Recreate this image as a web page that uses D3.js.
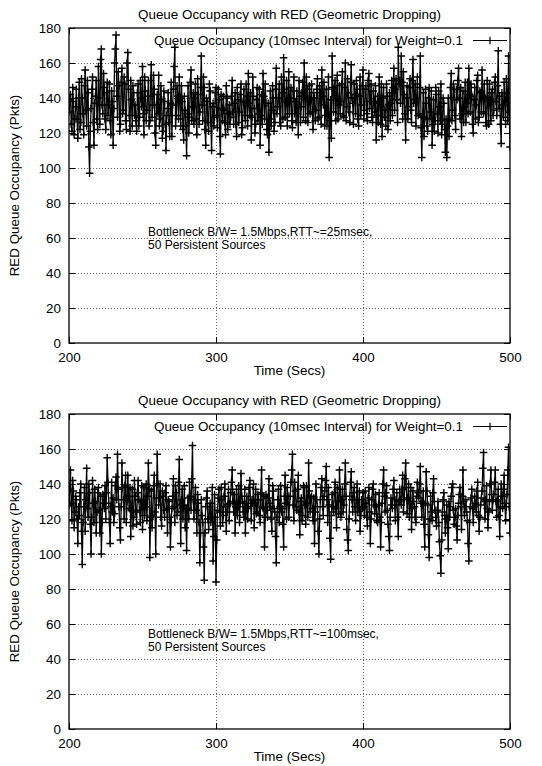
<!DOCTYPE html>
<html>
<head>
<meta charset="utf-8">
<script src="https://cdn.jsdelivr.net/npm/d3@7"></script>
<style>
  html, body { margin: 0; padding: 0; background: #fff; }
  svg { display: block; }
  text { font-family: "Liberation Sans", Arial, Helvetica, sans-serif; fill: #000; }
</style>
</head>
<body>
<svg id="chart" width="542" height="766"></svg>
<script>
// ---- data: samples every 0.5 s, t = 200 .. 500 ----
// whole-second samples (t = 200, 201, ... 500)
const sampleStart = 200;
const sampleStep = 1;

const rtt25Whole = [
  132,142,121,138,128, 145,117,149,126,140, 119,156,124,143,97, 134,152,113,141,128,
  158,125,168,131,146, 122,149,136,127,144, 113,160,176,129,147, 125,157,133,148,122,
  166,130,150,124,143, 136,121,148,129,140, 158,119,144,133,150, 127,159,136,145,113,
  142,153,128,139,121, 138,110,134,126,137, 118,145,169,130,141, 152,124,138,116,133,
  107,147,129,156,135, 125,148,119,142,132, 164,127,146,113,138, 121,144,110,137,129,
  146,123,139,108,134, 141,126,147,122,136, 129,150,125,143,118, 139,132,148,123,145,
  127,141,154,130,116, 152,134,125,146,131, 113,142,154,128,137, 119,109,144,133,140,
  126,157,135,148,124, 143,163,129,150,137, 131,146,123,152,138, 144,119,141,135,149,
  160,127,145,138,131, 148,122,140,133,151, 129,143,156,136,124, 145,131,106,139,164,
  132,150,141,128,147, 138,155,129,160,135, 143,126,159,137,148, 131,145,124,152,136,
  156,133,147,127,154, 138,129,144,132,116, 141,152,125,118,146, 133,148,122,143,137,
  130,157,145,139,169, 150,164,128,142,116, 147,135,151,126,162, 139,124,152,131,164,
  106,143,128,137,121, 146,132,113,139,127, 142,120,135,148,125, 137,109,106,140,128,
  154,133,145,122,139, 157,128,118,144,135, 126,149,157,132,141, 120,146,136,153,129,
  143,156,131,140,124, 138,148,127,145,133, 152,130,167,141,114, 136,149,125,143,164,
  112
];
// half-second samples (t = 200.5, 201.5, ... 499.5)
const rtt25Half = [
  139,125,146,119,135, 128,140,122,151,131, 147,133,150,112,121, 145,126,137,150,122,
  140,162,136,154,128, 143,130,148,119,138, 134,168,141,155,121, 149,131,152,127,160,
  145,121,139,147,130, 127,143,124,150,135, 131,152,127,141,124, 150,129,153,120,136,
  131,124,147,117,144, 125,130,143,118,149, 136,158,124,147,128, 140,147,122,141,124,
  131,120,149,127,143, 140,128,151,125,146, 136,152,122,140,126, 148,126,135,124,143,
  130,145,118,142,127, 133,119,140,131,125, 141,132,137,125,146, 126,142,119,138,130,
  148,124,137,143,129, 141,120,139,127,145, 130,125,141,148,122, 137,128,124,147,121,
  145,131,140,126,152, 128,145,138,124,155, 140,127,144,131,126, 131,150,126,143,129,
  141,152,126,147,139, 132,143,127,145,128, 147,125,141,149,130, 124,152,127,117,146,
  145,127,153,136,131, 148,130,146,127,151, 132,149,140,125,142, 150,128,141,130,147,
  128,145,131,150,134, 148,126,138,147,130, 126,137,148,140,129, 124,141,136,127,150,
  146,133,151,126,148, 137,149,155,131,140, 128,146,133,150,137, 148,140,130,146,123,
  129,118,145,124,140, 128,144,125,121,146, 131,144,127,119,140, 122,128,124,118,146,
  127,148,130,145,150, 140,146,131,126,149, 137,131,142,148,125, 139,128,150,126,144,
  132,141,148,126,150, 125,139,143,130,149, 138,147,134,125,143, 129,138,151,127,132
];

const rtt100Whole = [
  128,148,119,136,124, 131,106,122,140,94, 127,113,149,121,135, 100,142,118,130,124,
  138,112,100,134,126, 120,155,129,106,141, 132,123,144,157,127, 108,152,131,139,118,
  145,126,110,137,121, 133,117,142,125,130, 114,138,127,119,152, 98,136,122,145,100,
  157,128,140,116,133, 121,139,112,130,104, 126,143,118,135,124, 154,106,137,128,115,
  102,132,141,125,162, 120,138,112,129,95, 131,118,85,127,136, 114,129,121,96,134,
  84,125,137,116,131, 122,140,113,128,119, 135,148,124,112,137, 127,118,146,130,121,
  112,133,126,142,119, 129,115,137,124,131, 118,148,126,104,134, 121,143,129,113,136,
  124,95,131,118,139, 126,104,145,120,133, 128,141,157,119,136, 125,145,111,132,122,
  138,117,129,152,124, 133,119,106,140,127, 100,131,143,122,136, 150,118,128,97,134,
  124,141,115,130,148, 121,137,128,152,114, 102,133,147,124,138, 119,140,127,113,131,
  135,122,129,116,138, 106,131,140,123,127, 118,135,104,129,148, 124,139,117,102,132,
  126,142,119,135,110, 137,128,145,131,152, 123,140,129,114,136, 127,118,141,132,150,
  121,136,104,147,128, 98,133,119,143,125, 116,130,107,89,124, 135,112,128,103,121,
  133,140,117,126,108, 129,138,114,148,122, 131,119,96,127,137, 118,133,124,141,113,
  128,136,158,120,139, 115,130,148,125,134, 148,121,137,110,140, 126,145,119,134,161,
  112
];
const rtt100Half = [
  137,129,142,115,133, 120,127,135,113,118, 138,131,126,140,117, 121,129,137,112,135,
  125,133,118,129,139, 135,141,118,127,124, 118,139,131,137,115, 127,138,120,145,130,
  133,138,125,116,142, 124,135,131,118,139, 127,122,140,133,137, 121,115,139,124,132,
  140,132,121,136,125, 135,126,131,121,118, 133,127,139,122,141, 128,131,120,139,126,
  126,120,133,143,131, 131,125,134,118,112, 122,104,112,132,120, 127,118,138,110,121,
  108,132,124,138,118, 133,127,124,137,129, 141,130,134,127,122, 139,129,133,124,137,
  127,120,138,129,131, 140,129,123,134,122, 135,127,133,121,125, 132,127,120,139,126,
  110,121,137,127,124, 117,133,129,138,121, 133,148,128,141,127, 137,124,130,119,139,
  128,139,121,136,132, 126,132,124,131,113, 120,138,127,133,142, 131,138,109,122,127,
  135,126,138,123,137, 131,124,140,133,108, 120,141,131,135,127, 131,124,136,122,126,
  127,136,121,132,124, 120,137,128,134,119, 128,121,118,140,133, 135,125,110,121,128,
  137,128,131,121,130, 131,137,124,143,138, 132,121,138,126,130, 121,133,135,140,129,
  130,117,129,136,111, 120,124,135,130,121, 125,118,99,108,131, 122,120,115,130,127,
  138,125,121,116,122, 134,127,133,130,127, 124,106,118,132,126, 127,129,136,122,121,
  132,149,130,131,126, 124,140,134,131,141, 130,131,122,127,133, 137,129,127,148,127
];

const xTicks = [200, 300, 400, 500];
const yTicks = [0, 20, 40, 60, 80, 100, 120, 140, 160, 180];
const xDomain = [200, 500];
const yDomain = [0, 180];

const titleText = "Queue Occupancy with RED (Geometric Dropping)";
const legendText = "Queue Occupancy (10msec Interval) for Weight=0.1";
const xLabel = "Time (Secs)";
const yLabel = "RED Queue Occupancy (Pkts)";

const panels = [
  { whole: rtt25Whole, half: rtt25Half, top: 28, note: ["Bottleneck B/W= 1.5Mbps,RTT~=25msec,", "50 Persistent Sources"], noteValue: 63.5 },
  { whole: rtt100Whole, half: rtt100Half, top: 414, note: ["Bottleneck B/W= 1.5Mbps,RTT~=100msec,", "50 Persistent Sources"], noteValue: 54.5 }
];

// ---- drawing ----
const svg = d3.select("#chart");
const left = 69, right = 510, plotH = 315;
const fontSize = 13.4;
const noteSize = 12;

panels.forEach(p => {
  const x = d3.scaleLinear().domain(xDomain).range([left, right]);
  const y = d3.scaleLinear().domain(yDomain).range([p.top + plotH, p.top]);
  const g = svg.append("g");

  // grid (dotted)
  g.selectAll(".hgrid").data(yTicks.filter(v => v > yDomain[0] && v < yDomain[1]))
    .enter().append("line")
    .attr("x1", left).attr("x2", right)
    .attr("y1", d => y(d) + 0.5).attr("y2", d => y(d) + 0.5)
    .attr("stroke", "#666").attr("stroke-width", 1).attr("stroke-dasharray", "1,2");
  g.selectAll(".vgrid").data(xTicks.filter(v => v > xDomain[0] && v < xDomain[1]))
    .enter().append("line")
    .attr("x1", d => Math.round(x(d)) + 0.5).attr("x2", d => Math.round(x(d)) + 0.5)
    .attr("y1", p.top).attr("y2", p.top + plotH)
    .attr("stroke", "#666").attr("stroke-width", 1).attr("stroke-dasharray", "1,2");

  // axes with inward ticks
  const axL = d3.axisLeft(y).tickValues(yTicks).tickSize(-6).tickPadding(8);
  const axR = d3.axisRight(y).tickValues(yTicks).tickSize(-6).tickFormat("");
  const axB = d3.axisBottom(x).tickValues(xTicks).tickSize(-6).tickPadding(9);
  const axT = d3.axisTop(x).tickValues(xTicks).tickSize(-6).tickFormat("");
  [[axL, `translate(${left},0)`], [axR, `translate(${right},0)`],
   [axB, `translate(0,${p.top + plotH})`], [axT, `translate(0,${p.top})`]].forEach(([ax, tr]) => {
    const a = g.append("g").attr("transform", tr).call(ax);
    a.select(".domain").remove();
    a.selectAll("line").attr("stroke", "#000");
    a.selectAll("text").attr("font-size", fontSize).attr("font-family", "Liberation Sans, Arial, sans-serif").attr("fill", "#000");
  });

  // clip
  const clipId = "clip" + p.top;
  svg.append("clipPath").attr("id", clipId).append("rect")
    .attr("x", left).attr("y", p.top).attr("width", right - left).attr("height", plotH);

  const pts = [];
  p.whole.forEach((v, i) => {
    const t = sampleStart + i * sampleStep;
    pts.push([t, v]);
    if (i < p.half.length) pts.push([t + sampleStep / 2, p.half[i]]);
  });
  const line = d3.line().x(d => x(d[0])).y(d => y(d[1]));
  const dg = g.append("g").attr("clip-path", `url(#${clipId})`);
  dg.append("path").datum(pts).attr("d", line)
    .attr("fill", "none").attr("stroke", "#000").attr("stroke-width", 1.3);
  const m = 3.8;
  dg.append("path")
    .attr("d", pts.map(d => `M${x(d[0]) - m},${y(d[1])}H${x(d[0]) + m}M${x(d[0])},${y(d[1]) - m}V${y(d[1]) + m}`).join(""))
    .attr("stroke", "#000").attr("stroke-width", 1.4).attr("fill", "none");

  // border
  g.append("rect").attr("x", left).attr("y", p.top).attr("width", right - left).attr("height", plotH)
    .attr("fill", "none").attr("stroke", "#000").attr("stroke-width", 1.3);

  // title
  g.append("text").attr("x", (left + right) / 2).attr("y", p.top - 9)
    .attr("text-anchor", "middle").attr("font-size", fontSize).text(titleText);

  // legend
  const ly = p.top + 12.5;
  g.append("text").attr("x", 463).attr("y", ly + 4.5).attr("text-anchor", "end")
    .attr("font-size", fontSize).text(legendText);
  g.append("line").attr("x1", 473).attr("x2", 507).attr("y1", ly).attr("y2", ly).attr("stroke", "#000");
  g.append("path").attr("d", `M${490 - m},${ly}H${490 + m}M490,${ly - m}V${ly + m}`).attr("stroke", "#000").attr("stroke-width", 1.2);

  // annotation
  const ny = y(p.noteValue);
  g.append("text").attr("x", 148).attr("y", ny + 4).attr("font-size", noteSize).text(p.note[0]);
  g.append("text").attr("x", 148).attr("y", ny + 17).attr("font-size", noteSize).text(p.note[1]);

  // axis labels
  g.append("text").attr("x", (left + right) / 2).attr("y", p.top + plotH + 32)
    .attr("text-anchor", "middle").attr("font-size", fontSize).text(xLabel);
  g.append("text").attr("transform", `translate(19,${p.top + plotH / 2}) rotate(-90)`)
    .attr("text-anchor", "middle").attr("font-size", fontSize).text(yLabel);
});
</script>
</body>
</html>
